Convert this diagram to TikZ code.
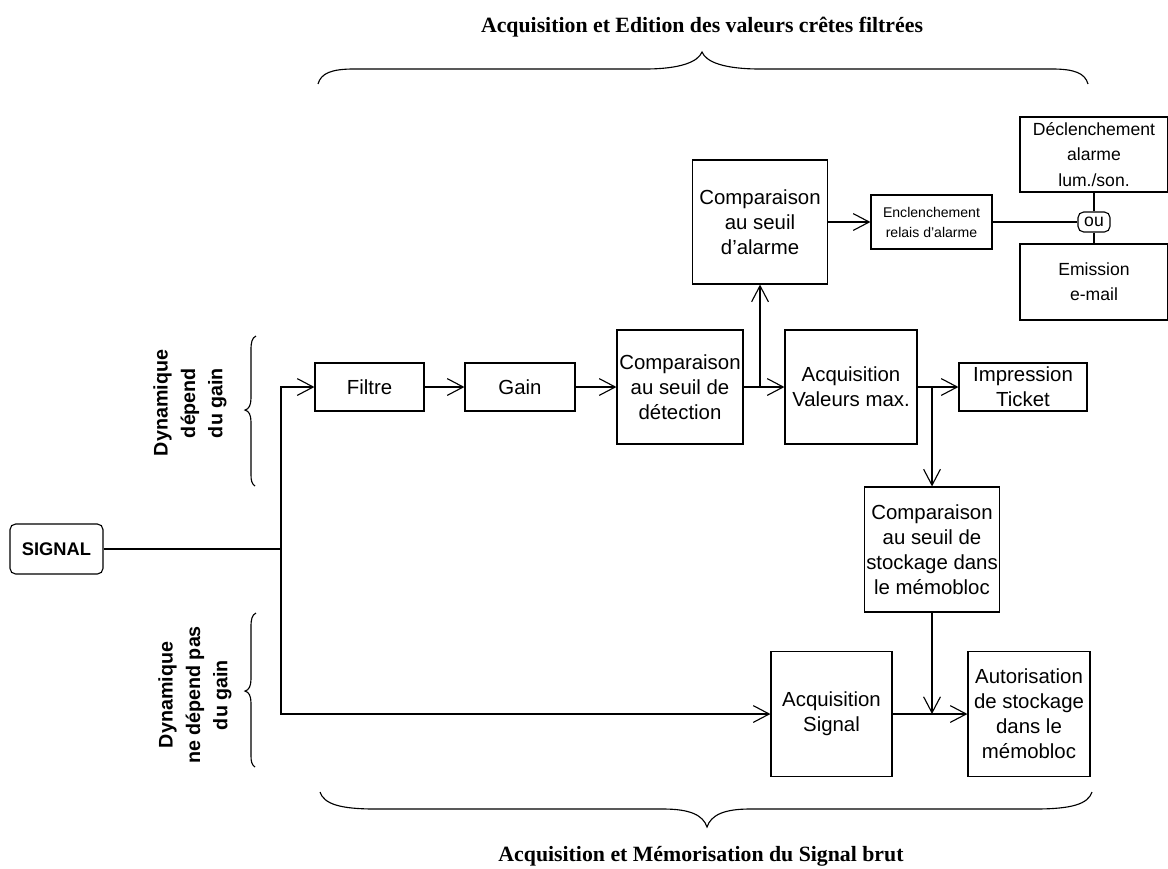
\documentclass[tikz,border=0pt]{standalone}
\usepackage{fontspec}
\setmainfont{Liberation Sans}
\newfontfamily\titlefont{Liberation Serif}
\usepackage{tikz}
\usetikzlibrary{arrows.meta,positioning}

\begin{document}
\begin{tikzpicture}[x=0.025cm, y=-0.025cm,
    blk/.style={rectangle, draw=black, line width=0.8pt, align=center,
                inner sep=1pt, font=\fontsize{14.5}{17.8}\selectfont},
    sblk/.style={blk, font=\fontsize{12.5}{18}\selectfont},
    arr/.style={-{Straight Barb[length=4mm, width=4.2mm]}, line width=0.8pt},
    lnk/.style={line width=0.8pt},
    brc/.style={line width=0.8pt},
    head/.style={font=\titlefont\bfseries\fontsize{15.5}{17}\selectfont},
    side/.style={font=\bfseries\fontsize{14}{19.5}\selectfont, align=center, rotate=90}
  ]
  \useasboundingbox (0,0) rectangle (1168,868);

  %% ── titles and side labels ──────────────────────────────────────────
  \node[head] (ttop) at (702,27)  {Acquisition et Edition des valeurs crêtes filtrées};
  \node[head] (tbot) at (701,856) {Acquisition et Mémorisation du Signal brut};
  \node[side] (dyn1) at (190,403) {Dynamique\\dépend\\du gain};
  \node[side] (dyn2) at (195,695) {Dynamique\\ne dépend pas\\du gain};

  %% ── input ───────────────────────────────────────────────────────────
  \node[blk, rounded corners=4pt, font=\bfseries\fontsize{13}{15}\selectfont,
        minimum width=2.325cm, minimum height=1.25cm] (sig) at (56.5,549) {SIGNAL};
  \coordinate (j) at (281,549);

  %% ── filtered branch (y = 387) ───────────────────────────────────────
  \node[blk, minimum width=2.725cm, minimum height=1.2cm]  (filtre) at (369.5,387) {Filtre};
  \node[blk, minimum width=2.75cm,  minimum height=1.2cm]  (gain)   at (520,387)   {Gain};
  \node[blk, minimum width=3.15cm,  minimum height=2.85cm] (detect) at (680,387)   {Comparaison\\au seuil de\\détection};
  \node[blk, minimum width=3.3cm,   minimum height=2.85cm] (acqmax) at (851,387)   {Acquisition\\Valeurs max.};
  \node[blk, minimum width=3.2cm,   minimum height=1.2cm]  (ticket) at (1023,387)  {Impression\\Ticket};
  \coordinate (t0) at (760,387);
  \coordinate (t1) at (932,387);

  %% ── alarm chain (y = 222) ───────────────────────────────────────────
  \node[blk, minimum width=3.375cm, minimum height=3.1cm]  (alarm)  at (760,222)   {Comparaison\\au seuil\\d'alarme};
  \node[blk, font=\fontsize{10}{14.2}\selectfont,
        minimum width=3.025cm, minimum height=1.35cm]     (relais) at (931.5,222) {Enclenchement\\relais d'alarme};
  \node[blk, rounded corners=4pt, minimum width=0.8cm, minimum height=0.5cm,
        font=\fontsize{12.5}{14}\selectfont, inner sep=0pt] (ou) at (1094,222) {ou};
  \node[sblk, minimum width=3.7cm, minimum height=1.875cm] (declench) at (1094,154.5) {Déclenchement\\alarme\\lum./son.};
  \node[sblk, minimum width=3.7cm, minimum height=1.9cm]   (emission) at (1094,282)   {Emission\\e-mail};

  %% ── raw signal branch (y = 714) ─────────────────────────────────────
  \node[blk, minimum width=3.375cm, minimum height=3.125cm] (stock)  at (932,549.5) {Comparaison\\au seuil de\\stockage dans\\le mémobloc};
  \node[blk, minimum width=3.025cm, minimum height=3.125cm] (acqsig) at (831.5,714) {Acquisition\\Signal};
  \node[blk, minimum width=3.05cm,  minimum height=3.125cm] (autor)  at (1029,714)  {Autorisation\\de stockage\\dans le\\mémobloc};
  \coordinate (t2) at (932,714);

  %% ── connectors ──────────────────────────────────────────────────────
  \draw[lnk] (sig) -- (j);
  \draw[arr] (j) |- (filtre);
  \draw[arr] (j) |- (acqsig);
  \draw[arr] (filtre) -- (gain);
  \draw[arr] (gain) -- (detect);
  \draw[arr] (detect) -- (acqmax);
  \draw[arr] (t0) -- (alarm);
  \draw[arr] (alarm) -- (relais);
  \draw[lnk] (relais) -- (ou);
  \draw[lnk] (ou) -- (declench);
  \draw[lnk] (ou) -- (emission);
  \draw[arr] (acqmax) -- (ticket);
  \draw[arr] (t1) -- (stock);
  \draw[arr] (acqsig) -- (autor);
  \draw[arr] (stock) -- (t2);

  %% ── braces ──────────────────────────────────────────────────────────
  \draw[brc] (318,84) .. controls (321,73) and (332,69) .. (354,69) -- (645,69)
             .. controls (680,69) and (698,62) .. (702,52)
             .. controls (706,62) and (724,69) .. (760,69) -- (1052,69)
             .. controls (1074,69) and (1085,73) .. (1088,84);
  \draw[brc] (320,792) .. controls (324,804) and (340,809) .. (375,809) -- (663,809)
             .. controls (690,809) and (703,815) .. (707,827)
             .. controls (711,815) and (724,809) .. (750,809) -- (1035,809)
             .. controls (1072,809) and (1088,804) .. (1092,792);
  \draw[brc] (256,336) .. controls (252,338) and (251,342) .. (251,350) -- (251,398)
             .. controls (251,405) and (249,409) .. (245,410)
             .. controls (249,411) and (251,415) .. (251,422) -- (251,475)
             .. controls (251,481) and (252,484) .. (255,486);
  \draw[brc] (256,613) .. controls (252,615) and (251,619) .. (251,627) -- (251,679)
             .. controls (251,686) and (249,690) .. (245,691)
             .. controls (249,692) and (251,696) .. (251,703) -- (251,756)
             .. controls (251,762) and (252,765) .. (255,767);

\end{tikzpicture}
\end{document}
